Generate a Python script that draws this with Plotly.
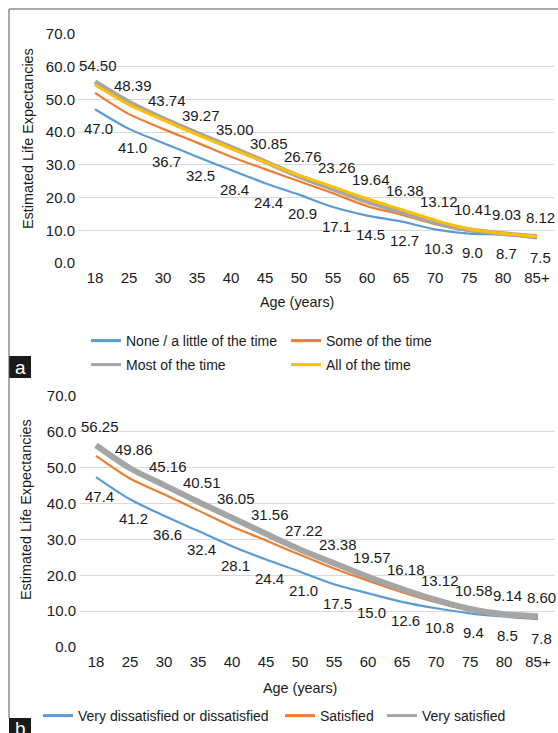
import plotly.graph_objects as go

ages = ["18", "25", "30", "35", "40", "45", "50", "55", "60", "65", "70", "75", "80", "85+"]

# Panel a
a_none = [47.0, 41.0, 36.7, 32.5, 28.4, 24.4, 20.9, 17.1, 14.5, 12.7, 10.3, 9.0, 8.7, 7.5]
a_some = [52.0, 45.5, 41.0, 36.8, 32.5, 28.7, 25.0, 21.3, 17.4, 14.8, 11.9, 9.8, 8.9, 7.9]
a_most = [55.4, 49.2, 44.2, 39.7, 35.4, 31.0, 26.5, 22.6, 18.8, 15.6, 12.5, 10.2, 9.0, 8.1]
a_all = [54.50, 48.39, 43.74, 39.27, 35.00, 30.85, 26.76, 23.26, 19.64, 16.38, 13.12, 10.41, 9.03, 8.12]

# Panel b
b_dis = [47.4, 41.2, 36.6, 32.4, 28.1, 24.4, 21.0, 17.5, 15.0, 12.6, 10.8, 9.4, 8.5, 7.8]
b_sat = [53.3, 47.0, 42.6, 38.1, 33.6, 29.7, 25.7, 21.9, 18.5, 15.3, 12.5, 10.2, 8.9, 8.0]
b_very = [56.25, 49.86, 45.16, 40.51, 36.05, 31.56, 27.22, 23.38, 19.57, 16.18, 13.12, 10.58, 9.14, 8.60]

BLUE, ORANGE, GREY, YELLOW = "#5B9BD5", "#ED7D31", "#A5A5A5", "#FFC000"
TXT = "#1a1a1a"
FONT = "Liberation Sans, Arial, sans-serif"
W, H = 558, 733

def px(x):
    return x / W

def py(y):
    return 1 - y / H

fig = go.Figure()

legend_pos = {}

def line(x, y, name, color, width, xa, ya, legend, lx, ly):
    # data line
    fig.add_trace(go.Scatter(
        x=x, y=y, name=name, mode="lines",
        line=dict(color=color, width=width, shape="spline", smoothing=0.8),
        xaxis=xa, yaxis=ya, showlegend=False, hoverinfo="skip"))
    # legend entry (uniform thin sample line, as in the reference)
    fig.add_trace(go.Scatter(
        x=[None], y=[None], name=name, mode="lines",
        line=dict(color=color, width=3),
        xaxis=xa, yaxis=ya, legend=legend, showlegend=True, hoverinfo="skip"))
    legend_pos[legend] = (lx, ly)

line(ages, a_none, "None / a little of the time", BLUE, 2.2, "x", "y", "legend", 86, 341)
line(ages, a_some, "Some of the time", ORANGE, 2.2, "x", "y", "legend2", 286, 341)
line(ages, a_most, "Most of the time", GREY, 4.8, "x", "y", "legend3", 86, 365)
line(ages, a_all, "All of the time", YELLOW, 3, "x", "y", "legend4", 286, 365)

line(ages, b_dis, "Very dissatisfied or dissatisfied", BLUE, 2.2, "x2", "y2", "legend5", 38, 716)
line(ages, b_sat, "Satisfied", ORANGE, 2.2, "x2", "y2", "legend6", 280, 716)
line(ages, b_very, "Very satisfied", GREY, 6, "x2", "y2", "legend7", 382, 716)

annotations = []

def labels(vals, fmt, xref, yref, shift):
    for i, v in enumerate(vals):
        annotations.append(dict(
            x=i, y=v, xref=xref, yref=yref, text=fmt.format(v), showarrow=False,
            xshift=3.5, yshift=shift, font=dict(size=15, color=TXT, family=FONT)))

labels(a_none, "{:.1f}", "x", "y", -19)
labels(a_all, "{:.2f}", "x", "y", 19)
labels(b_dis, "{:.1f}", "x2", "y2", -19)
labels(b_very, "{:.2f}", "x2", "y2", 19)

# axis titles
for (xx, yy, t, ang) in [
    (28, 139, "Estimated Life Expectancies", -90),
    (297, 302, "Age (years)", 0),
    (26, 510, "Estimated Life Expectancies", -90),
    (300, 688, "Age (years)", 0),
]:
    annotations.append(dict(x=px(xx), y=py(yy), xref="paper", yref="paper", text=t,
                            textangle=ang, showarrow=False, xanchor="center", yanchor="middle",
                            font=dict(size=14.4, color=TXT, family=FONT)))

# panel letters
annotations.append(dict(x=px(20), y=py(367), xref="paper", yref="paper", text="a", showarrow=False,
                        font=dict(size=19, color="white", family=FONT), xanchor="center", yanchor="middle"))
annotations.append(dict(x=px(20), y=py(728), xref="paper", yref="paper", text="b", showarrow=False,
                        font=dict(size=19, color="white", family=FONT), xanchor="center", yanchor="middle"))

shapes = [
    dict(type="line", xref="paper", yref="paper", x0=px(9), x1=px(9), y0=py(9), y1=py(718),
         line=dict(color="#555555", width=1)),
    dict(type="line", xref="paper", yref="paper", x0=px(9), x1=1, y0=py(9), y1=py(9),
         line=dict(color="#555555", width=1)),
    dict(type="rect", xref="paper", yref="paper", x0=px(9), x1=px(31), y0=py(356), y1=py(378),
         fillcolor="#1a1a1a", line=dict(width=0), layer="below"),
    dict(type="rect", xref="paper", yref="paper", x0=px(9), x1=px(31), y0=py(718), y1=py(740),
         fillcolor="#1a1a1a", line=dict(width=0), layer="below"),
]

xax = dict(type="category", range=[-0.5, 13.5], showgrid=False, zeroline=False,
           showline=False, ticks="", tickfont=dict(size=15, color=TXT, family=FONT),
           ticklabelstandoff=4, fixedrange=True, automargin=False)
yax = dict(range=[0, 70], dtick=10, tickformat=".1f", showgrid=True, gridcolor="#D9D9D9",
           gridwidth=1.3, zeroline=False, showline=False, ticks="",
           tickfont=dict(size=15, color=TXT, family=FONT), ticklabelstandoff=2,
           fixedrange=True, automargin=False)

legfont = dict(size=14, color=TXT, family=FONT)

layout_legends = {}
for name, (lx, ly) in legend_pos.items():
    layout_legends[name] = dict(x=px(lx), y=py(ly), xanchor="left", yanchor="middle",
                                font=legfont, bgcolor="rgba(0,0,0,0)", borderwidth=0)

fig.update_layout(
    template="none",
    width=W, height=H, margin=dict(l=0, r=0, t=0, b=0, autoexpand=False),
    paper_bgcolor="white", plot_bgcolor="white",
    font=dict(family=FONT, color=TXT, size=14),
    xaxis=dict(xax, domain=[px(78), px(554)], anchor="y"),
    yaxis=dict(yax, domain=[py(263), py(34)], anchor="x"),
    xaxis2=dict(xax, domain=[px(79), px(555)], anchor="y2"),
    yaxis2=dict(yax, domain=[py(647), py(396)], anchor="x2"),
    annotations=annotations, shapes=shapes, showlegend=True,
    **layout_legends,
)

fig.write_html("out.html", config={"displayModeBar": False},
               post_script="document.body.style.margin='0';")
